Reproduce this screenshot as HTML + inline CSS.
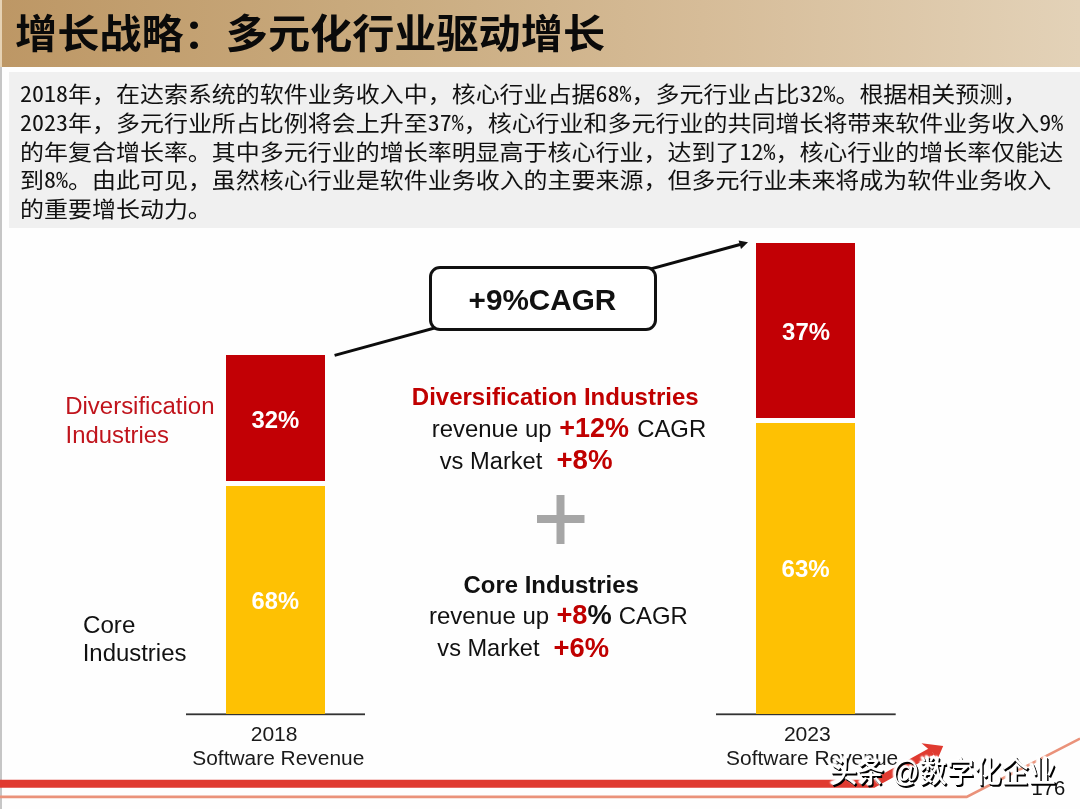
<!DOCTYPE html>
<html lang="zh-CN">
<head>
<meta charset="utf-8">
<title>增长战略：多元化行业驱动增长</title>
<style>
html,body{margin:0;padding:0;}
body{width:1080px;height:809px;position:relative;overflow:hidden;background:#fefefe;font-family:"Liberation Sans","Noto Sans CJK SC",sans-serif;color:#111;}
.abs{position:absolute;white-space:nowrap;}
#leftedge{left:0;top:0;width:1.5px;height:809px;background:linear-gradient(180deg,#e6d2b4 0,#e6d2b4 67px,#c6c6c6 67px,#c6c6c6 100%);}
#header{left:0;top:0;width:1080px;height:67px;background:linear-gradient(90deg,#bd9765 0%,#caac80 37%,#d6bc98 65%,#e3d2b8 100%);}
#title{left:15.4px;top:5px;font-family:"Liberation Sans","Noto Sans CJK SC",sans-serif;font-weight:700;font-size:39.5px;line-height:58px;color:#0a0a0a;transform:scaleX(1.067);transform-origin:0 50%;}
#para{left:8.8px;top:72px;width:1071px;height:155.8px;background:#f0f0f0;}
.pl{left:20px;font-family:"Liberation Sans","Noto Sans CJK SC",sans-serif;font-size:22px;transform:scaleX(1.09);transform-origin:0 50%;line-height:29px;height:29px;color:#111;}
.pl b{font-family:"Noto Sans Mono CJK SC","NanumGothicCoding","WenQuanYi Zen Hei Mono","IPAGothic",monospace;font-weight:400;line-height:1px;}
.bar{position:absolute;}
.red{background:#c20005;}
.yel{background:#fec103;}
</style>
</head>
<body>
<div id="header" class="abs"></div>
<div id="title" class="abs">增长战略：多元化行业驱动增长</div>
<div id="leftedge" class="abs"></div>
<div id="para" class="abs"></div>
<div class="abs pl" style="top:80px"><b>2018</b>年，在达索系统的软件业务收入中，核心行业占据<b>68%</b>，多元行业占比<b>32%</b>。根据相关预测，</div>
<div class="abs pl" style="top:109px"><b>2023</b>年，多元行业所占比例将会上升至<b>37%</b>，核心行业和多元行业的共同增长将带来软件业务收入<b>9%</b></div>
<div class="abs pl" style="top:138px">的年复合增长率。其中多元行业的增长率明显高于核心行业，达到了<b>12%</b>，核心行业的增长率仅能达</div>
<div class="abs pl" style="top:166px">到<b>8%</b>。由此可见，虽然核心行业是软件业务收入的主要来源，但多元行业未来将成为软件业务收入</div>
<div class="abs pl" style="top:195px">的重要增长动力。</div>

<!-- chart graphics -->
<svg class="abs" style="left:0;top:0" width="1080" height="809" viewBox="0 0 1080 809">
  <!-- bottom decorative lines -->
  <path d="M0 783.7 L873.4 783.7 L932 751.2" fill="none" stroke="#e03a30" stroke-width="8" stroke-linejoin="miter"/>
  <path d="M921.5 743.2 L943.2 746 L937.3 759.8 L932.5 752.5 Z" fill="#e03a30"/>
  <path d="M0 796.9 L966.7 796.9 L1080 738.6" fill="none" stroke="#ea927a" stroke-width="2.6"/>
  <!-- CAGR arrow -->
  <line x1="334.6" y1="355.4" x2="740" y2="244.5" stroke="#0c0c0c" stroke-width="3"/>
  <path d="M748 242.3 L738.6 240.6 L741 249 Z" fill="#111"/>
  <!-- axes -->
  <rect x="186" y="713.4" width="179" height="1.8" fill="#333"/>
  <rect x="716" y="713.4" width="179.7" height="1.8" fill="#333"/>
  <!-- plus sign -->
  <rect x="537" y="515" width="47.5" height="8" fill="#a6a6a6"/>
  <rect x="556.5" y="495" width="8" height="49" fill="#a6a6a6"/>
</svg>

<div class="bar red" style="left:226px;top:355.3px;width:99.2px;height:125.4px"></div>
<div class="bar yel" style="left:226px;top:485.9px;width:99.2px;height:228.3px"></div>
<div class="bar red" style="left:756px;top:243px;width:99.2px;height:174.5px"></div>
<div class="bar yel" style="left:756px;top:423px;width:99.2px;height:291px"></div>


<!-- CAGR box -->
<div class="abs" style="left:429.3px;top:266px;width:221.3px;height:59.4px;border:3px solid #111;border-radius:11px;background:#fff;"></div>

<!-- chart labels -->
<svg class="abs" style="left:0;top:0" width="1080" height="809" viewBox="0 0 1080 809" font-family="'Liberation Sans',Arial,sans-serif" xml:space="preserve">
  <text transform="translate(65.14 414.0) scale(1.0304 1)" font-size="23.3" fill="#c0141c">Diversification</text>
  <text transform="translate(65.60 442.6) scale(1.0235 1)" font-size="23.3" fill="#c0141c">Industries</text>
  <text transform="translate(83.00 632.7) scale(1.0363 1)" font-size="23.3" fill="#111">Core</text>
  <text transform="translate(82.69 661.0) scale(1.0276 1)" font-size="23.3" fill="#111">Industries</text>
  <text transform="translate(251.49 427.9) scale(1.0298 1)" font-size="23.2" font-weight="700" fill="#fff">32%</text>
  <text transform="translate(251.53 609.3) scale(1.0222 1)" font-size="23.2" font-weight="700" fill="#fff">68%</text>
  <text transform="translate(782.08 339.8) scale(1.0320 1)" font-size="23.2" font-weight="700" fill="#fff">37%</text>
  <text transform="translate(781.52 577.0) scale(1.0378 1)" font-size="23.2" font-weight="700" fill="#fff">63%</text>
  <text transform="translate(250.68 740.7) scale(1.0227 1)" font-size="20.6" fill="#1a1a1a">2018</text>
  <text transform="translate(192.29 765.2) scale(1.0149 1)" font-size="20.6" fill="#1a1a1a">Software Revenue</text>
  <text transform="translate(783.88 740.7) scale(1.0250 1)" font-size="20.6" fill="#1a1a1a">2023</text>
  <text transform="translate(726.08 765.2) scale(1.0161 1)" font-size="20.6" fill="#1a1a1a">Software Revenue</text>
  <text transform="translate(468.57 310.0) scale(0.9835 1)" font-size="30.2" font-weight="700" fill="#111">+9%CAGR</text>
  <text transform="translate(411.80 404.6) scale(1.0009 1)" font-size="24" font-weight="700" fill="#c00000">Diversification Industries</text>
  <text transform="translate(431.70 436.9) scale(0.9983 1)" font-size="24.0" fill="#111">revenue up</text>
  <text transform="translate(559.29 436.9) scale(0.9645 1)" font-size="28.0" font-weight="700" fill="#c00000">+12%</text>
  <text transform="translate(637.16 436.9) scale(0.9955 1)" font-size="24.0" fill="#111">CAGR</text>
  <text transform="translate(439.75 468.7) scale(0.9874 1)" font-size="24.0" fill="#111">vs Market</text>
  <text transform="translate(556.46 468.9) scale(0.9881 1)" font-size="28" font-weight="700" fill="#c00000">+8%</text>
  <text transform="translate(463.60 592.8) scale(0.9960 1)" font-size="24" font-weight="700" fill="#111">Core Industries</text>
  <text transform="translate(429.00 624.1) scale(1.0009 1)" font-size="24.0" fill="#111">revenue up</text>
  <text transform="translate(556.38 624.1) scale(0.9735 1)" font-size="28.0" font-weight="700" fill="#c00000">+8<tspan fill="#111">%</tspan></text>
  <text transform="translate(618.75 624.1) scale(0.9970 1)" font-size="24.0" fill="#111">CAGR</text>
  <text transform="translate(437.35 656.3) scale(0.9826 1)" font-size="24.0" fill="#111">vs Market</text>
  <text transform="translate(553.58 656.5) scale(0.9790 1)" font-size="28" font-weight="700" fill="#c00000">+6%</text>
  <text transform="translate(1031.50 795.0) scale(1.0016 1)" font-size="20.2" fill="#111">176</text>
</svg>

<!-- watermark -->
<div class="abs" style="left:829.6px;top:752.8px;font-family:'Liberation Sans','Noto Sans CJK SC',sans-serif;font-size:29.3px;transform:scaleX(0.93);transform-origin:0 50%;line-height:38px;color:#fff;font-weight:500;text-shadow:1.6px 1.6px 0.3px #000, 0.8px 0.8px 0 #000, -1px -1px 1.5px #fff, -1.5px -1.5px 2px #fff;">头条 @数字化企业</div>
</body>
</html>
